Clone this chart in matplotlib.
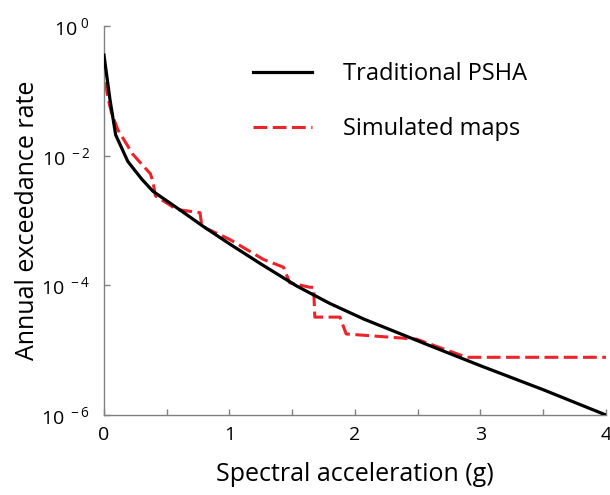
import matplotlib
matplotlib.use('Agg')
import matplotlib.pyplot as plt
from matplotlib.ticker import FixedLocator, MultipleLocator

plt.rcParams['font.family'] = ['Open Sans', 'DejaVu Sans']
plt.rcParams['mathtext.fontset'] = 'custom'
plt.rcParams['mathtext.rm'] = 'Open Sans'
plt.rcParams['mathtext.it'] = 'Open Sans'
plt.rcParams['mathtext.default'] = 'regular'

# Traditional PSHA hazard curve (log10 of rate)
psha_x = [0, 0.048, 0.093, 0.19, 0.3, 0.39, 0.6, 0.79, 1.0, 1.25, 1.535, 1.8, 2.07, 2.57, 3.0, 3.5, 4.0]
psha_log = [-0.45, -1.14, -1.68, -2.09, -2.36, -2.55, -2.83, -3.09, -3.36, -3.67, -4.01, -4.28,
            -4.52, -4.91, -5.24, -5.61, -6.0]

# Simulated maps curve
sim_x = [0, 0.01, 0.03, 0.06, 0.11, 0.23, 0.37, 0.39, 0.41, 0.58, 0.765, 0.78, 1.0, 1.27, 1.43,
         1.48, 1.64, 1.67, 1.68, 1.88, 1.93, 2.49, 2.89, 4.0]
sim_log = [-0.57, -0.85, -1.1, -1.34, -1.6, -1.98, -2.28, -2.4, -2.62, -2.83, -2.88, -3.09, -3.29,
           -3.6, -3.72, -3.96, -4.03, -4.03, -4.49, -4.49, -4.75, -4.83, -5.11, -5.11]

# y tick exponents
y_exps = [-6, -4, -2, 0]

psha_y = [10 ** v for v in psha_log]
sim_y = [10 ** v for v in sim_log]

fig = plt.figure(figsize=(6.1, 4.95), dpi=100)
ax = fig.add_axes([0.1705, 0.1616, 0.8229, 0.7859])

ax.plot(psha_x, psha_y, color='black', lw=2.3, label='Traditional PSHA', zorder=3)
ax.plot(sim_x, sim_y, color='#ee2229', lw=2.2, dashes=(4.5, 1.8), label='Simulated maps', zorder=2)

ax.set_yscale('log')
ax.set_xlim(0, 4)
ax.set_ylim(1e-6, 1e0)
ax.yaxis.set_major_locator(FixedLocator([10.0 ** e for e in y_exps]))
ax.yaxis.set_minor_locator(FixedLocator([]))
ax.set_yticklabels([r'$10^{\ %d}$' % e for e in y_exps])
ax.xaxis.set_major_locator(MultipleLocator(1))
ax.xaxis.set_minor_locator(MultipleLocator(0.5))

for s in ['top', 'right']:
    ax.spines[s].set_visible(False)
for s in ['left', 'bottom']:
    ax.spines[s].set_color('#808080')
    ax.spines[s].set_linewidth(1.0)

ax.tick_params(which='both', direction='in', length=4, width=1, color='#808080',
               labelsize=14, pad=8)
ax.tick_params(axis='y', pad=10)

ax.set_xlabel('Spectral acceleration (g)', fontsize=18, labelpad=13)
ax.set_ylabel('Annual exceedance rate', fontsize=18, labelpad=1)

ax.legend(frameon=False, fontsize=17, handlelength=2.5, handletextpad=1.3, labelspacing=1.3,
          loc='upper right', bbox_to_anchor=(0.8845, 0.9614))

fig.savefig('out.png', dpi=100)
